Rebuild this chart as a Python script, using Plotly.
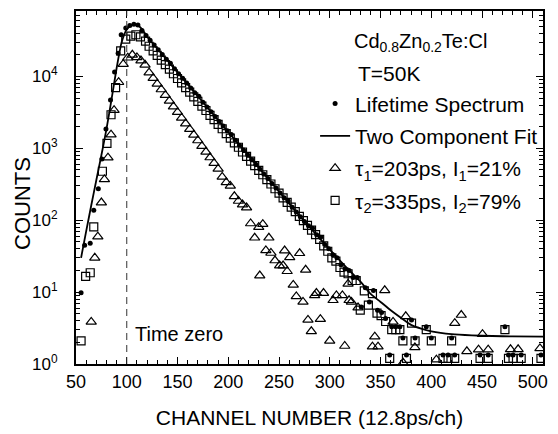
import plotly.graph_objects as go

# ---------------- data ----------------
dots_x = [55, 58.5, 64, 67.5, 72, 75.5, 79.5, 84, 88, 91.5, 94.5, 99, 103, 107, 111,
          115, 119, 123, 127, 131, 135, 139, 143, 147, 151, 155, 159, 163, 167, 171,
          175, 179, 183, 187, 191, 195, 199, 203, 207, 211, 215, 219, 223, 227, 231,
          235, 239, 243, 247, 251, 255, 259, 263, 267, 271, 275, 279, 283, 287, 291,
          295, 299, 303, 307, 311, 315, 319, 323, 327, 331, 335, 339, 343, 347, 351,
          355, 359, 361, 365, 369, 372, 375.5, 380.5, 384, 395, 400, 411.5, 416.5, 420,
          423, 448, 456, 472.5, 476, 480.5, 488.5, 508]
dots_y = [9.8, 45, 48, 138, 275, 710, 1860, 4700, 11500, 21000, 38000, 47000, 51000, 53000, 52000,
          43400, 37200, 31900, 27400, 23500, 20200, 17300, 15300, 12800, 10900, 9400, 8070, 6920, 5940, 5300,
          4380, 3760, 3220, 2770, 2370, 2040, 1750, 1560, 1290, 1100, 950, 815, 700, 600, 515,
          440, 380, 325, 280, 240, 205, 185, 151, 130, 112, 96, 84, 77, 63, 58,
          46, 40, 33, 30, 24, 21, 20, 16, 16, 6.2, 11.5, 7.3, 10.5, 5.6, 5.2,
          4.3, 1.33, 3.3, 3.3, 3.3, 2.3, 1.33, 4.1, 2.3, 3.3, 2.3, 1.33, 1.33, 2.3,
          1.33, 1.33, 1.33, 3.3, 1.33, 1.33, 1.33, 1.33]

fit_x = [55, 60, 65, 70, 75, 80, 85, 90, 95, 100, 105, 110, 115, 120, 130, 140, 150, 160,
         170, 180, 190, 200, 210, 220, 230, 240, 250, 260, 270, 280, 290, 300, 310, 320,
         330, 340, 350, 360, 370, 380, 390, 400, 420, 440, 460, 480, 510]
fit_y = [30, 70, 160, 360, 800, 1850, 4800, 13000, 30000, 45000, 51500, 52000, 45500, 35800,
         24400, 16700, 11400, 7760, 5300, 3610, 2470, 1680, 1150, 783, 535, 365, 249, 170,
         116, 81, 56, 39, 27.5, 19.5, 14.1, 9.5, 7.3, 5.6, 4.4, 3.5, 3.1, 2.85, 2.6, 2.5,
         2.45, 2.42, 2.4]

tri_x = [65, 68.5, 71.5, 75, 78, 81.5, 84.5, 87.5, 92, 96.5, 101, 105.5, 110, 114, 118,
         122, 126, 130, 134, 138, 142, 146, 150, 154, 158, 162, 166, 170, 174, 178, 182,
         186, 190, 194, 198, 202, 206, 210, 214, 218, 222, 226, 230, 231, 234, 237, 240,
         242, 246, 250.6, 254, 255.5, 258, 260.5, 264, 267, 270.3, 273.6, 276.2, 278.5,
         281.8, 285.1, 286.8, 290.7, 293.8, 299.9, 303.2, 306.5, 312.4, 314.7, 318, 319,
         321.3, 327.8, 342, 344.3, 347.5, 354.1, 362.3, 372.2, 374.8, 383.8, 405, 423.1,
         429.5, 435, 446.5, 450.4, 456, 478, 485.5, 507]
tri_y = [3.85, 30, 59, 176, 370, 740, 1550, 3400, 8300, 14800, 18200, 20000, 18400, 16600, 14500,
         11300, 9450, 7880, 6580, 5480, 4570, 3810, 3180, 2650, 2210, 1850, 1540, 1285, 1070, 893, 745,
         621, 518, 400, 335, 300, 215, 185, 165, 150, 90, 57, 80, 17, 88, 38, 57,
         35, 27.5, 23.4, 23.4, 37.8, 19.5, 30.5, 12.6, 8.7, 34.7, 7.3, 20.4, 4.1,
         2.85, 9.0, 9.7, 4.2, 9.7, 2.1, 7.7, 9.0, 9.0, 1.78, 13, 7.7,
         7.3, 6.1, 1.74, 2.4, 1.74, 10.6, 3.85, 1.04, 4.6, 1.7, 1.15, 3.7,
         4.8, 1.5, 1.58, 2.6, 1.58, 1.6, 1.6, 1.65]

sq_x = [55, 59.5, 64, 67.5, 76, 80.5, 84.5, 89, 94, 99, 104, 109, 113.5, 118.5,
        122, 126, 130, 134, 138, 142, 146, 150, 154, 158, 162, 166, 170, 174, 178, 182,
        186, 190, 194, 198, 202, 206, 210, 214, 218, 222, 226, 230, 234, 238, 242, 246,
        250, 254, 258, 262, 266, 270, 274, 278, 282, 286, 290,
        294, 298, 302, 306, 310, 314, 318, 322, 326, 330, 334, 338, 342, 346.5, 350.5,
        355, 359, 361, 365, 369, 372, 375.5, 380.5, 384, 395, 400, 411.5, 416.5, 420,
        423, 448, 456, 472.5, 476, 480.5, 488.5, 508]
sq_y = [2.1, 16.6, 18.6, 81, 480, 1170, 2930, 7000, 22700, 33000, 36300, 38000, 35500, 30900,
        26300, 22600, 19600, 16900, 14600, 12600, 10900, 9350, 8130, 6970, 6050, 5190, 4510, 3870, 3360, 2880,
        2500, 2150, 1870, 1600, 1390, 1190, 1035, 889, 771, 662, 574, 493, 429, 367, 319, 274,
        238, 204, 177, 152, 132, 113, 99, 85, 73, 63, 54,
        44, 37, 30, 27, 22, 19, 18, 14.5, 14.5, 5.6, 10.4, 6.6, 9.5, 5.1, 4.7,
        3.9, 1.2, 3.0, 3.0, 3.0, 2.1, 1.2, 3.7, 2.1, 3.0, 2.1, 1.2, 1.2, 2.1,
        1.2, 1.2, 1.2, 3.0, 1.2, 1.2, 1.2, 1.2]

x_ticks = [50, 100, 150, 200, 250, 300, 350, 400, 450, 500]
y_ticks = [1, 10, 100, 1000, 10000]
y_tick_text = ["10<sup>0</sup>", "10<sup>1</sup>", "10<sup>2</sup>", "10<sup>3</sup>", "10<sup>4</sup>"]

FONT = "Arial, Liberation Sans, sans-serif"

fig = go.Figure()
fig.add_trace(go.Scatter(x=dots_x, y=dots_y, mode="markers", name="Lifetime Spectrum",
                         marker=dict(symbol="circle", size=5, color="black"),
                         legendgroup="a"))
fig.add_trace(go.Scatter(x=fit_x, y=fit_y, mode="lines", name="Two Component Fit",
                         line=dict(color="black", width=1.8, shape="spline", smoothing=0.6),
                         legendgroup="b"))
fig.add_trace(go.Scatter(x=tri_x, y=tri_y, mode="markers",
                         name="τ<sub>1</sub>=203ps, I<sub>1</sub>=21%",
                         marker=dict(symbol="triangle-up-open", size=9, color="black",
                                     line=dict(width=1.2, color="black")),
                         legendgroup="c"))
fig.add_trace(go.Scatter(x=sq_x, y=sq_y, mode="markers",
                         name="τ<sub>2</sub>=335ps, I<sub>2</sub>=79%",
                         marker=dict(symbol="square-open", size=8, color="black",
                                     line=dict(width=1.2, color="black")),
                         legendgroup="d"))

fig.add_shape(type="line", xref="x", yref="paper", x0=100, x1=100, y0=0, y1=1,
              line=dict(color="#333333", width=1, dash="7px,5px"))

axis_common = dict(showline=True, linecolor="black", linewidth=2, mirror="ticks",
                   ticks="inside", ticklen=7, tickwidth=1.3, tickcolor="black",
                   showgrid=False, zeroline=False)

fig.update_xaxes(range=[50, 510], tickvals=x_ticks,
                 minor=dict(ticks="inside", ticklen=4, dtick=10, tick0=50,
                            tickcolor="black", tickwidth=1, showgrid=False),
                 title=dict(text="CHANNEL NUMBER (12.8ps/ch)",
                            font=dict(family=FONT, size=21, color="black"), standoff=20),
                 ticklabelstandoff=0,
                 tickfont=dict(family=FONT, size=18, color="black"),
                 **axis_common)
fig.update_yaxes(type="log", range=[0, 4.91], tickvals=y_ticks, ticktext=y_tick_text,
                 minor=dict(ticks="inside", ticklen=4, dtick="D1",
                            tickcolor="black", tickwidth=1, showgrid=False),
                 ticklabelstandoff=13,
                 tickfont=dict(family=FONT, size=17, color="black"),
                 **axis_common)

fig.add_annotation(text="COUNTS", xref="paper", yref="paper", x=(23 - 76) / 467, y=0.4535,
                   textangle=-90, showarrow=False, xanchor="center", yanchor="middle",
                   font=dict(family=FONT, size=22, color="black"))
fig.add_annotation(text="Cd<sub>0.8</sub>Zn<sub>0.2</sub>Te:Cl", xref="paper", yref="paper",
                   x=0.591, y=0.952, xanchor="left", yanchor="top", showarrow=False,
                   font=dict(family=FONT, size=20, color="black"))
fig.add_annotation(text="T=50K", xref="paper", yref="paper", x=0.5996, y=0.8225,
                   xanchor="left", yanchor="middle", showarrow=False,
                   font=dict(family=FONT, size=21, color="black"))
fig.add_annotation(text="Time zero", xref="paper", yref="paper", x=(133 - 76) / 467,
                   y=0.0845, xanchor="left", yanchor="middle", showarrow=False,
                   font=dict(family=FONT, size=20, color="black"))

# the page adds an 8px body margin, so the figure is 8px smaller and the margins shifted
fig.update_layout(width=550, height=426, margin=dict(l=68, r=15, t=1, b=70),
                  paper_bgcolor="white", plot_bgcolor="white",
                  font=dict(family=FONT, color="black"),
                  showlegend=True,
                  legend=dict(x=0.512, y=0.795, xanchor="left", yanchor="top",
                              font=dict(family=FONT, size=21, color="black"),
                              bgcolor="rgba(0,0,0,0)", traceorder="grouped",
                              tracegroupgap=2, borderwidth=0))

fig.write_html("out.html")
